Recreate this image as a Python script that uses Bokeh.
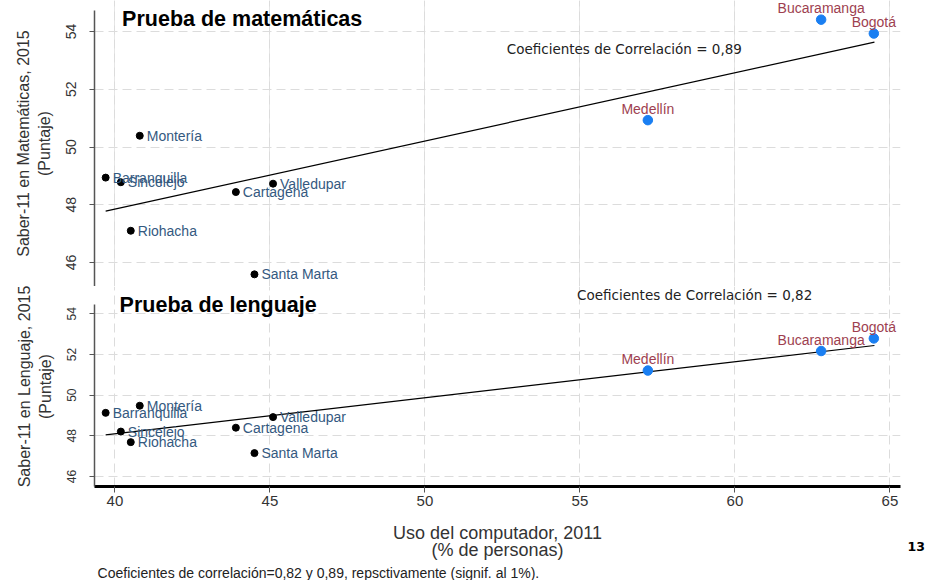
from bokeh.plotting import figure
from bokeh.layouts import column
from bokeh.models import (ColumnDataSource, LabelSet, Label, FixedTicker, Grid, Range1d,
                          LinearAxis)
from bokeh.embed import file_html
from bokeh.resources import INLINE
from bokeh.core.properties import value

# ---------------- data ----------------
cities_hi = ["Bucaramanga", "Bogotá", "Medellín"]
uso_hi = [62.78, 64.48, 57.19]
mat_hi = [54.41, 53.93, 50.93]
len_hi = [52.17, 52.79, 51.21]

cities_lo = ["Montería", "Barranquilla", "Sincelejo", "Cartagena", "Valledupar", "Riohacha", "Santa Marta"]
uso_lo = [40.80, 39.70, 40.19, 43.90, 45.10, 40.51, 44.50]
mat_lo = [50.39, 48.94, 48.78, 48.44, 48.73, 47.10, 45.59]
len_lo = [49.48, 49.13, 48.21, 48.40, 48.92, 47.69, 47.15]

fit_x = [39.7, 64.5]
fit_mat = [47.78, 53.63]
fit_len = [48.05, 52.44]

x_ticks = [40, 45, 50, 55, 60, 65]
y_ticks = [46, 48, 50, 52, 54]

title_mat = "Prueba de matemáticas"
title_len = "Prueba de lenguaje"
corr_mat = "Coeficientes de Correlación = 0,89"
corr_len = "Coeficientes de Correlación = 0,82"
ylab_mat = "Saber-11 en Matemáticas, 2015\n(Puntaje)"
ylab_len = "Saber-11 en Lenguaje, 2015\n(Puntaje)"
xlab_1 = "Uso del computador, 2011"
xlab_2 = "(% de personas)"
footnote = "Coeficientes de correlación=0,82 y 0,89, repsctivamente (signif. al 1%)."
page_no = "13"

# ---------------- styles ----------------
FONT = "Liberation Sans"
W = 927
BL, BR = 94, 27
GRID_COLOR = "#dcdcdc"
GRID_DASH = "9 5"
LO_TEXT = "#34597f"
HI_TEXT = "#9e3f50"
HI_DOT = "#1a7ff2"
AX_COLOR = "#555555"
TXT = "#333333"
X_RANGE = (39.34, 65.34)


def base_fig(height, y_range, **kw):
    p = figure(width=W, height=height, x_range=Range1d(*X_RANGE), y_range=Range1d(*y_range),
               output_backend="svg", toolbar_location=None,
               min_border_left=BL, min_border_right=BR, **kw)
    p.outline_line_color = None
    p.background_fill_color = "white"
    p.border_fill_color = "white"
    return p


def style_yaxis(p, label, tick_size, bounds):
    ax = p.yaxis[0]
    ax.ticker = FixedTicker(ticks=y_ticks)
    ax.bounds = bounds
    ax.axis_label = label
    ax.axis_label_text_font = FONT
    ax.axis_label_text_font_size = "16px"
    ax.axis_label_text_font_style = "normal"
    ax.axis_label_text_color = TXT
    ax.axis_label_text_line_height = 1.2
    ax.axis_label_standoff = 11
    ax.axis_line_color = AX_COLOR
    ax.axis_line_width = 1.5
    ax.major_tick_line_color = AX_COLOR
    ax.major_tick_out = 5
    ax.major_tick_in = 0
    ax.minor_tick_out = 0
    ax.minor_tick_in = 0
    ax.major_label_orientation = "vertical"
    ax.major_label_text_font = FONT
    ax.major_label_text_font_size = tick_size
    ax.major_label_text_color = TXT
    ax.major_label_standoff = 13
    p.ygrid.grid_line_color = GRID_COLOR
    p.ygrid.grid_line_dash = GRID_DASH
    p.ygrid.ticker = FixedTicker(ticks=y_ticks)


def add_points(p, yhi, ylo, fit, hi_dy):
    p.line(fit_x, fit, line_color="black", line_width=1.2)
    src_lo = ColumnDataSource(dict(x=uso_lo, y=ylo, name=cities_lo))
    src_hi = ColumnDataSource(dict(x=uso_hi, y=yhi, name=cities_hi, dy=hi_dy))
    p.scatter("x", "y", source=src_lo, size=7, color="black")
    p.scatter("x", "y", source=src_hi, size=9.5, color=HI_DOT)
    p.add_layout(LabelSet(x="x", y="y", text="name", source=src_lo, x_offset=7, y_offset=0,
                          text_align="left", text_baseline="middle", text_font=value(FONT),
                          text_font_size="14px", text_color=LO_TEXT))
    p.add_layout(LabelSet(x="x", y="y", text="name", source=src_hi, x_offset=0, y_offset="dy",
                          text_align="center", text_baseline="middle", text_font=value(FONT),
                          text_font_size="14px", text_color=HI_TEXT))


# ---------------- top panel ----------------
top = base_fig(286, (45.169, 55.074), x_axis_location=None, min_border_top=0, min_border_bottom=0)
style_yaxis(top, ylab_mat, "14px", (45.169, 54.727))
top.add_layout(Grid(dimension=0, ticker=FixedTicker(ticks=x_ticks), bounds=(45.169, 54.62),
                    grid_line_color=GRID_COLOR, grid_line_dash=GRID_DASH))
add_points(top, mat_hi, mat_lo, fit_mat, [11.3, 11.3, 11.3])
top.add_layout(Label(x=40.23, y=54.45, text=title_mat, text_font=FONT, text_font_size="21.5px",
                     text_font_style="bold", text_color="black", text_baseline="middle",
                     text_align="left"))
top.add_layout(Label(x=56.43, y=53.41, text=corr_mat, text_font="DejaVu Sans",
                     text_font_size="13.5px", text_color="#222222", text_baseline="middle",
                     text_align="center"))

# ---------------- bottom panel ----------------
bot = base_fig(230, (45.509, 55.342), min_border_top=0, min_border_bottom=30)
style_yaxis(bot, ylab_len, "12px", (45.509, 54.457))
xa = bot.xaxis[0]
xa.ticker = FixedTicker(ticks=x_ticks)
xa.axis_line_color = "black"
xa.axis_line_width = 3
xa.major_tick_line_color = AX_COLOR
xa.major_tick_out = 6
xa.major_tick_in = 0
xa.minor_tick_out = 0
xa.minor_tick_in = 0
xa.major_label_text_font = FONT
xa.major_label_text_font_size = "15px"
xa.major_label_text_color = TXT
xa.major_label_standoff = 3
bot.xgrid.grid_line_color = GRID_COLOR
bot.xgrid.grid_line_dash = GRID_DASH
bot.xgrid.ticker = FixedTicker(ticks=x_ticks)
bot.xgrid.bounds = (45.509, 54.40)
add_points(bot, len_hi, len_lo, fit_len, [11.3, 11.3, 11.3])
bot.add_layout(Label(x=40.15, y=54.41, text=title_len, text_font=FONT, text_font_size="21.5px",
                     text_font_style="bold", text_color="black", text_baseline="middle",
                     text_align="left"))
bot.add_layout(Label(x=58.70, y=54.93, text=corr_len, text_font="DejaVu Sans",
                     text_font_size="13.5px", text_color="#222222", text_baseline="middle",
                     text_align="center"))

# ---------------- x title, footnote, page number ----------------
foot = figure(width=W, height=64, output_backend="svg", toolbar_location=None,
              x_range=Range1d(*X_RANGE), y_range=Range1d(0, 64),
              x_axis_location=None, y_axis_location=None,
              min_border_left=BL, min_border_right=BR, min_border_top=0, min_border_bottom=0)
foot.outline_line_color = None
foot.background_fill_color = "white"
foot.border_fill_color = "white"
xmid = (X_RANGE[0] + X_RANGE[1]) / 2
foot.add_layout(Label(x=xmid, y=48, text=xlab_1, text_font=FONT, text_font_size="18px",
                      text_color=TXT, text_align="center", text_baseline="middle"))
foot.add_layout(Label(x=xmid, y=31, text=xlab_2, text_font=FONT, text_font_size="18px",
                      text_color=TXT, text_align="center", text_baseline="middle"))
foot.add_layout(Label(x=39.44, y=8, text=footnote, text_font=FONT, text_font_size="14px",
                      text_color="#222222", text_baseline="alphabetic", text_align="left"))
page_axis = LinearAxis(ticker=FixedTicker(ticks=[34]), major_label_overrides={34: page_no})
page_axis.axis_line_color = None
page_axis.major_tick_line_color = None
page_axis.minor_tick_line_color = None
page_axis.major_tick_out = 0
page_axis.major_tick_in = 0
page_axis.minor_tick_out = 0
page_axis.minor_tick_in = 0
page_axis.major_label_standoff = 7
page_axis.major_label_text_font = "DejaVu Sans"
page_axis.major_label_text_font_style = "bold"
page_axis.major_label_text_font_size = "12.5px"
page_axis.major_label_text_color = "black"
foot.add_layout(page_axis, "right")
for g in foot.grid:
    g.visible = False
foot.renderers = [r for r in foot.renderers if not isinstance(r, Grid)]
foot.center = [c for c in foot.center if not isinstance(c, Grid)]

layout = column(top, bot, foot, spacing=0)
open("out.html", "w").write(file_html(layout, INLINE))
